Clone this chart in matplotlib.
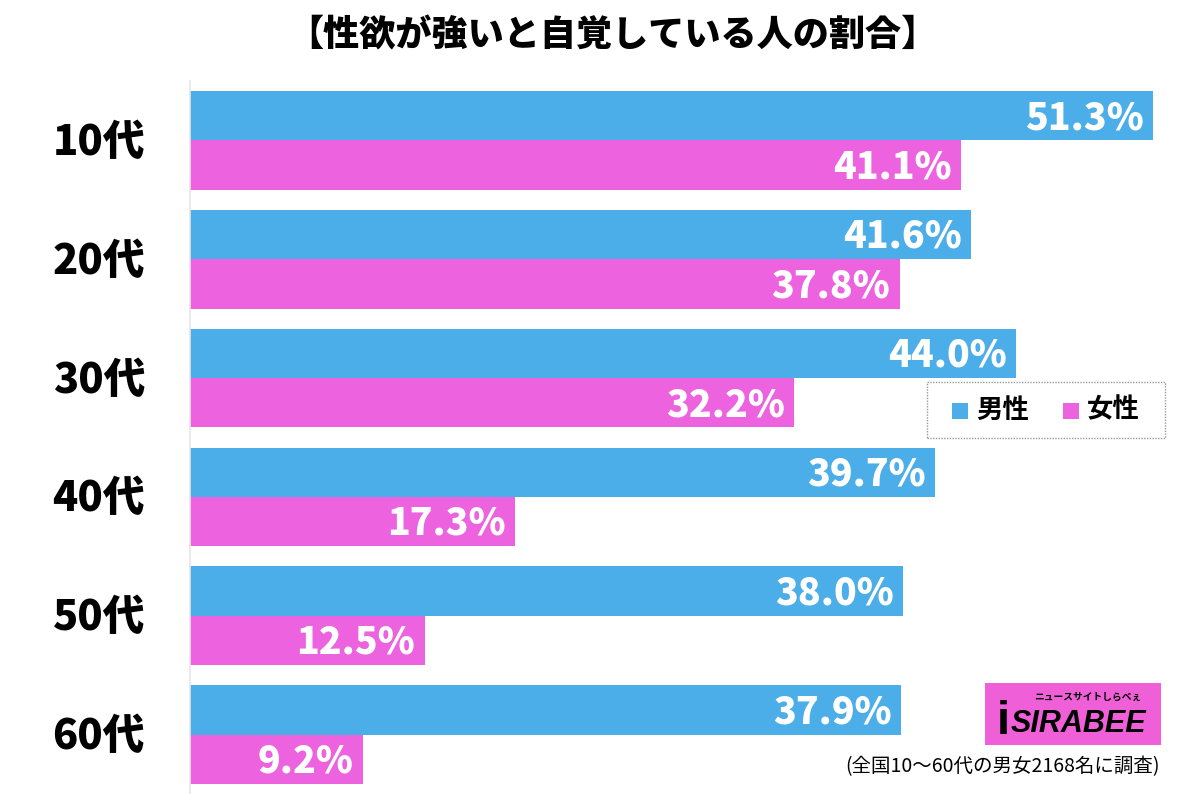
import matplotlib.pyplot as plt
from matplotlib.patches import Rectangle

plt.rcParams['font.family'] = ['Noto Sans CJK JP', 'DejaVu Sans']

# data
categories = ['10代', '20代', '30代', '40代', '50代', '60代']
male = [51.3, 41.6, 44.0, 39.7, 38.0, 37.9]
female = [41.1, 37.8, 32.2, 17.3, 12.5, 9.2]
series_names = ['男性', '女性']
title = '【性欲が強いと自覚している人の割合】'
note = '(全国10～60代の男女2168名に調査)'

blue = '#4BAEE8'
pink = '#EC62DF'

W, H = 1200, 794
fig = plt.figure(figsize=(W / 100, H / 100), dpi=100)
ax = fig.add_axes([190 / W, 0, 1000 / W, 1 - 81 / H])

bh = 0.415
ys = list(range(len(categories)))
ax.barh([y - bh / 2 for y in ys], male, height=bh, color=blue, zorder=2)
ax.barh([y + bh / 2 for y in ys], female, height=bh, color=pink, zorder=2)

for y, m, f in zip(ys, male, female):
    ax.text(m - 0.5, y - bh / 2 + 0.02, f'{m:.1f}%', ha='right', va='center',
            color='white', fontsize=27, fontweight='black')
    ax.text(f - 0.5, y + bh / 2 + 0.02, f'{f:.1f}%', ha='right', va='center',
            color='white', fontsize=27, fontweight='black')

ax.set_xlim(0, 1000 / 18.77)
ax.set_ylim(len(categories) - 0.5, -0.5)
ax.set_xticks([])
ax.set_yticks([])
for s in ['top', 'right', 'bottom']:
    ax.spines[s].set_visible(False)
ax.spines['left'].set_color('#e6e6e6')
ax.spines['left'].set_linewidth(1.2)

for y, c in zip(ys, categories):
    ax.text(-2.4, y + 0.02, c, ha='right', va='center', fontsize=30,
            fontweight='black', color='black')

fig.text(0.51, 1 - 36 / H, title, ha='center', va='center', fontsize=26,
         fontweight='black')

# legend
lg = Rectangle((927 / W, 1 - 438 / H), 238 / W, 56 / H, transform=fig.transFigure,
               facecolor='white', edgecolor='#999999', linestyle=(0, (1, 1)),
               linewidth=1, zorder=5)
fig.patches.append(lg)
for x0, col, name in [(952, blue, series_names[0]), (1063, pink, series_names[1])]:
    fig.patches.append(Rectangle((x0 / W, 1 - 419 / H), 16 / W, 16 / H,
                                 transform=fig.transFigure, facecolor=col,
                                 edgecolor='none', zorder=6))
    fig.text((x0 + 24) / W, 1 - 410 / H, name, ha='left', va='center',
             fontsize=19, fontweight='bold', zorder=7)

# logo
fig.patches.append(Rectangle((985 / W, 1 - 745 / H), 176 / W, 62 / H,
                             transform=fig.transFigure, facecolor='#EE5FD8',
                             edgecolor='none', zorder=5))
fig.text(1078 / W, 1 - 724 / H, 'SIRABEE', ha='center', va='center', fontsize=22,
         fontweight='bold', style='italic', zorder=6, family=['Liberation Sans'])
fig.text(1003 / W, 1 - 722 / H, 'i', ha='center', va='center', fontsize=34,
         fontweight='bold', zorder=6, family=['Liberation Sans'])
fig.text(1088 / W, 1 - 697 / H, 'ニュースサイトしらべぇ', ha='center', va='center',
         fontsize=7, fontweight='bold', zorder=6)

fig.text(1160 / W, 1 - 767 / H, note, ha='right', va='center', fontsize=14)

fig.savefig('out.png', dpi=100, facecolor='white')
